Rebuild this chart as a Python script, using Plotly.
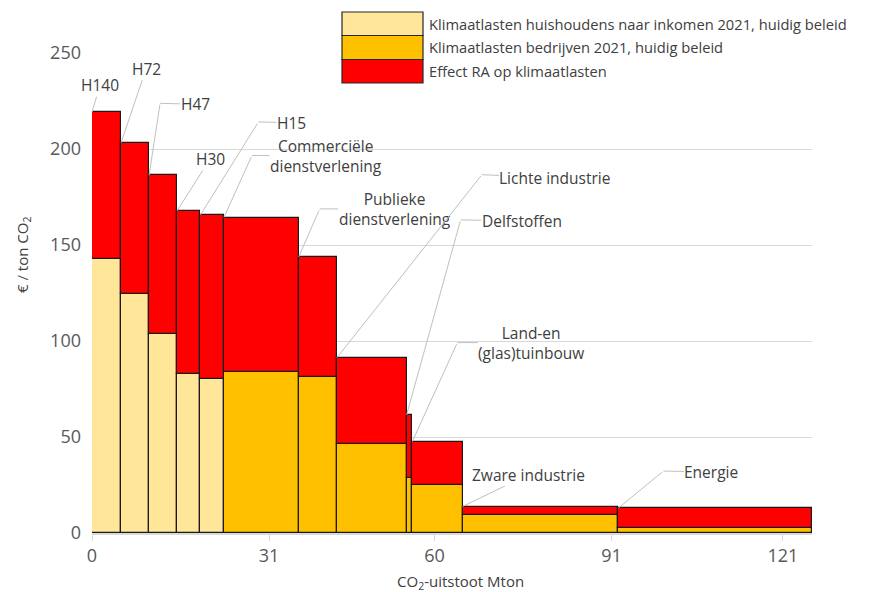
import plotly.graph_objects as go
import numpy as np

# ---------------- data ----------------
labels = ["H140", "H72", "H47", "H30", "H15",
          "Commerciële<br>dienstverlening", "Publieke<br>dienstverlening",
          "Lichte industrie", "Delfstoffen", "Land-en<br>(glas)tuinbouw",
          "Zware industrie", "Energie"]
sector = ["huishouden"] * 5 + ["bedrijf"] * 7
emissions = [5.1, 4.9, 4.9, 4.1, 4.1, 13.1, 6.7, 12.2, 1.0, 8.8, 27.3, 33.9]      # Mton (bar width)
burden_2021 = [142.6, 124.4, 103.6, 82.7, 80.2, 84.0, 81.4, 46.6, 28.9, 24.8, 9.5, 2.6]
burden_total = [219.2, 203.3, 186.3, 167.8, 165.7, 164.3, 143.8, 91.3, 61.5, 47.6, 13.8, 13.0]
x_tick_values = [0, 31, 60, 91, 121]
x_tick_labels = ["0", "31", "60", "91", "121"]
y_tick_values = [0, 50, 100, 150, 200, 250]

series_names = ["Klimaatlasten huishoudens naar inkomen 2021, huidig beleid",
                "Klimaatlasten bedrijven 2021, huidig beleid",
                "Effect RA op klimaatlasten"]
colors = ["#FFE699", "#FFC000", "#FF0000"]

# label placement (pixel offsets from top-left corner of each bar): text centre, elbow
label_text_offset = [(8, -27), (25, -74), (46, -71), (33, -52), (91, -92), (102, -62),
                     (96, -48), (218, -180), (115, -194), (119, -99), (66, -32), (93, -36)]
label_elbow_offset = [None, None, (11, -72), None, (58, -93), (28, -62),
                      (21, -48), (145, -183), (54, -195), (45, -99), None, (45, -37)]

# ---------------- derived ----------------
w = np.array(emissions)
left = np.concatenate([[0], np.cumsum(w)[:-1]])
mid = left + w / 2
base = np.array(burden_2021)
total = np.array(burden_total)
is_hh = np.array([s == "huishouden" for s in sector])

FONT = "Open Sans"
TXT = "#404040"

fig = go.Figure()
fig.add_trace(go.Bar(name=series_names[0], x=mid[is_hh], width=w[is_hh], y=base[is_hh],
                     marker=dict(color=colors[0], line=dict(color="#1a1a1a", width=1.2))))
fig.add_trace(go.Bar(name=series_names[1], x=mid[~is_hh], width=w[~is_hh], y=base[~is_hh],
                     marker=dict(color=colors[1], line=dict(color="#1a1a1a", width=1.2))))
fig.add_trace(go.Bar(name=series_names[2], x=mid, width=w, base=base, y=total - base,
                     marker=dict(color=colors[2], line=dict(color="#1a1a1a", width=1.2))))

annotations = []
line_style = dict(arrowhead=0, arrowwidth=1, arrowcolor="#BFBFBF", standoff=0, startstandoff=0)
for i, lab in enumerate(labels):
    tdx, tdy = label_text_offset[i]
    el = label_elbow_offset[i]
    fnt = dict(family=FONT, size=15.5, color=TXT)
    if el is None:
        annotations.append(dict(x=left[i], y=total[i], xref="x", yref="y", text=lab,
                                showarrow=True, ax=tdx, ay=tdy, font=fnt, align="center",
                                borderpad=0, **line_style))
    else:
        edx, edy = el
        # diagonal from elbow to bar corner
        annotations.append(dict(x=left[i], y=total[i], xref="x", yref="y", text="",
                                showarrow=True, ax=edx, ay=edy, **line_style))
        # text with short horizontal leader to elbow
        annotations.append(dict(x=left[i], y=total[i], xref="x", yref="y", text=lab,
                                xshift=edx, yshift=-edy, showarrow=True,
                                ax=tdx - edx, ay=tdy - edy, font=fnt, align="center",
                                borderpad=0, **line_style))

# page offset (browser default body margin) and plot-area frame in window pixels
OFF = 8
L, R, T, B = 92, 812, 53, 533
FIG_W, FIG_H = 881 - OFF, 592 - OFF
def px(xp):
    return (xp - L) / (R - L)
def py(yp):
    return (B - yp) / (B - T)

shapes = []
# white legend background covering gridline
shapes.append(dict(type="rect", xref="paper", yref="paper", x0=px(336), x1=px(876),
                   y0=py(88), y1=py(8), fillcolor="white", line=dict(width=0), layer="above"))
rows = [(12, 35.5), (35.5, 59.5), (59.5, 83)]
for (y0, y1), c, name in zip(rows, colors, series_names):
    shapes.append(dict(type="rect", xref="paper", yref="paper", x0=px(342), x1=px(423),
                       y0=py(y1), y1=py(y0), fillcolor=c,
                       line=dict(color="#262626", width=1.2), layer="above"))
    annotations.append(dict(x=px(427), y=py((y0 + y1) / 2), xref="paper", yref="paper",
                            text=name, showarrow=False, xanchor="left", yanchor="middle",
                            font=dict(family=FONT, size=14.7, color=TXT)))

# axis titles
annotations.append(dict(x=px(460), y=py(582), xref="paper", yref="paper",
                        text="CO<sub>2</sub>-uitstoot Mton", showarrow=False,
                        xanchor="center", yanchor="middle",
                        font=dict(family=FONT, size=15, color=TXT)))
annotations.append(dict(x=px(23), y=py(255), xref="paper", yref="paper",
                        text="€ / ton CO<sub>2</sub>", showarrow=False, textangle=-90,
                        xanchor="center", yanchor="middle",
                        font=dict(family=FONT, size=15, color=TXT)))

fig.update_layout(
    width=FIG_W, height=FIG_H, autosize=False,
    margin=dict(l=L - OFF, r=FIG_W + OFF - R, t=T - OFF, b=FIG_H + OFF - B),
    paper_bgcolor="white", plot_bgcolor="white",
    barmode="overlay", bargap=0, showlegend=False,
    annotations=annotations, shapes=shapes,
    xaxis=dict(range=[0, 126.1], tickvals=x_tick_values, ticktext=x_tick_labels,
               showgrid=False, zeroline=False, showline=True, linecolor="#D9D9D9",
               linewidth=1.5, ticks="outside", ticklen=6, tickcolor="#D9D9D9",
               tickfont=dict(family=FONT, size=18, color="#595959")),
    yaxis=dict(range=[0, 250], tickvals=y_tick_values, showgrid=True,
               gridcolor="#D9D9D9", gridwidth=1, zeroline=False, showline=False,
               ticklabelstandoff=10,
               tickfont=dict(family=FONT, size=18, color="#595959")),
)

fig.write_html("out.html")
